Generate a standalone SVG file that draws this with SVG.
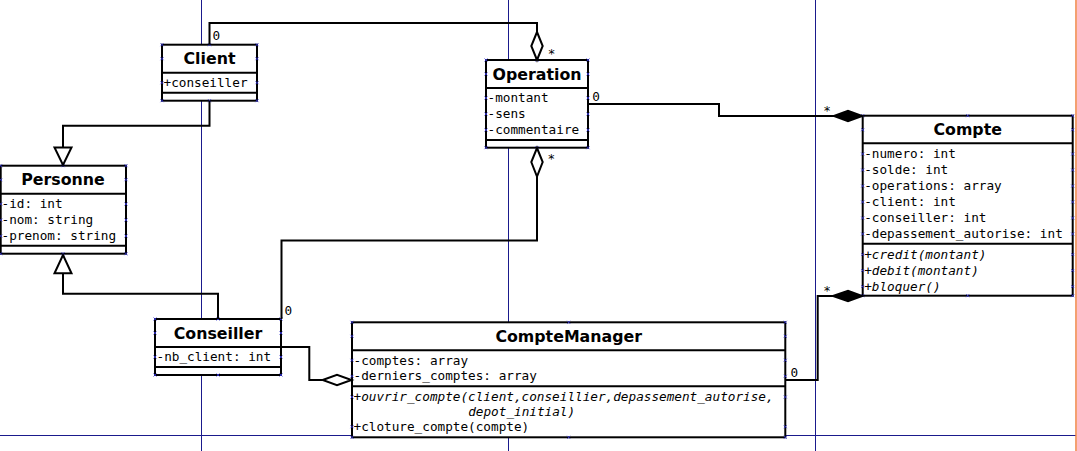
<svg xmlns="http://www.w3.org/2000/svg" xmlns:xlink="http://www.w3.org/1999/xlink" width="1077" height="451" viewBox="0 0 1077 451">
<style>
.bg{fill:#fff}
.guide{stroke:#1a1a8c;stroke-width:1;fill:none}
.guide2{stroke:#f08040;stroke-width:1.5;fill:none}
.box{fill:#fff;stroke:#000;stroke-width:2}
.div{stroke:#000;stroke-width:2}
.title{font-family:"DejaVu Sans",sans-serif;font-weight:bold;font-size:15.8px;text-anchor:middle;fill:#000}
.attr{font-family:"DejaVu Sans Mono",monospace;font-size:12.7px;fill:#000}
.it{font-style:italic}
.lbl{font-family:"DejaVu Sans Mono",monospace;font-size:12.7px;fill:#000}
.conn{fill:none;stroke:#000;stroke-width:2}
.hollow{fill:#fff;stroke:#000;stroke-width:2;stroke-linejoin:miter}
.solid{fill:#000;stroke:#000;stroke-width:2}
.cp{stroke:#3030d0;stroke-width:0.8;fill:none}
</style>
<defs>
<path id="cp" class="cp" d="M-1.5,-1.5L1.5,1.5M-1.5,1.5L1.5,-1.5"/>
</defs>
<rect class="bg" x="0" y="0" width="1077" height="451"/>
<g id="guides">
<line class="guide" x1="201.5" y1="0" x2="201.5" y2="451"/>
<line class="guide" x1="508.5" y1="0" x2="508.5" y2="451"/>
<line class="guide" x1="815.5" y1="0" x2="815.5" y2="451"/>
<line class="guide" x1="0" y1="435.5" x2="1076" y2="435.5"/>
<line class="guide2" x1="1076" y1="0" x2="1076" y2="451"/>
</g>

<g id="Client">
<rect class="box" x="162" y="44.7" width="95" height="56"/>
<line class="div" x1="162" y1="72.7" x2="257" y2="72.7"/>
<line class="div" x1="162" y1="92.7" x2="257" y2="92.7"/>
<text class="title" x="209.5" y="64.3">Client</text>
<text class="attr" x="163.5" y="86.7">+conseiller</text>
<use href="#cp" x="162" y="44.7"/><use href="#cp" x="257" y="44.7"/><use href="#cp" x="162" y="100.7"/><use href="#cp" x="257" y="100.7"/>
<use href="#cp" x="209.5" y="44.7"/><use href="#cp" x="209.5" y="100.7"/>
<use href="#cp" x="162" y="58.7"/><use href="#cp" x="257" y="58.7"/><use href="#cp" x="162" y="82.7"/><use href="#cp" x="257" y="82.7"/>
</g>

<g id="Personne">
<rect class="box" x="0.7" y="165.7" width="125.3" height="88"/>
<line class="div" x1="0.7" y1="193.7" x2="126" y2="193.7"/>
<line class="div" x1="0.7" y1="245.7" x2="126" y2="245.7"/>
<text class="title" x="63" y="185.3">Personne</text>
<text class="attr" x="1.5" y="208">-id: int</text>
<text class="attr" x="1.5" y="224">-nom: string</text>
<text class="attr" x="1.5" y="240">-prenom: string</text>
<use href="#cp" x="0.7" y="165.7"/><use href="#cp" x="126" y="165.7"/><use href="#cp" x="0.7" y="253.7"/><use href="#cp" x="126" y="253.7"/>
<use href="#cp" x="63" y="165.7"/><use href="#cp" x="63" y="253.7"/>
<use href="#cp" x="0.7" y="179.7"/><use href="#cp" x="126" y="179.7"/>
<use href="#cp" x="0.7" y="204"/><use href="#cp" x="126" y="204"/>
<use href="#cp" x="0.7" y="220"/><use href="#cp" x="126" y="220"/>
<use href="#cp" x="0.7" y="236"/><use href="#cp" x="126" y="236"/>
</g>

<g id="Operation">
<rect class="box" x="486" y="60" width="102" height="87.7"/>
<line class="div" x1="486" y1="88" x2="588" y2="88"/>
<line class="div" x1="486" y1="140" x2="588" y2="140"/>
<text class="title" x="537" y="79.6">Operation</text>
<text class="attr" x="487.5" y="102">-montant</text>
<text class="attr" x="487.5" y="118">-sens</text>
<text class="attr" x="487.5" y="134">-commentaire</text>
<use href="#cp" x="486" y="60"/><use href="#cp" x="588" y="60"/><use href="#cp" x="486" y="147.7"/><use href="#cp" x="588" y="147.7"/>
<use href="#cp" x="537" y="60"/><use href="#cp" x="537" y="147.7"/>
<use href="#cp" x="486" y="74"/><use href="#cp" x="588" y="74"/>
<use href="#cp" x="486" y="98"/><use href="#cp" x="588" y="98"/>
<use href="#cp" x="486" y="114"/><use href="#cp" x="588" y="114"/>
<use href="#cp" x="486" y="130"/><use href="#cp" x="588" y="130"/>
</g>

<g id="Compte">
<rect class="box" x="862.7" y="115.7" width="210" height="180"/>
<line class="div" x1="862.7" y1="143.3" x2="1072.7" y2="143.3"/>
<line class="div" x1="862.7" y1="243.7" x2="1072.7" y2="243.7"/>
<text class="title" x="967.7" y="135.3">Compte</text>
<text class="attr" x="864.2" y="158">-numero: int</text>
<text class="attr" x="864.2" y="174">-solde: int</text>
<text class="attr" x="864.2" y="190">-operations: array</text>
<text class="attr" x="864.2" y="206">-client: int</text>
<text class="attr" x="864.2" y="222">-conseiller: int</text>
<text class="attr" x="864.2" y="238">-depassement_autorise: int</text>
<text class="attr it" x="864.2" y="258.5">+credit(montant)</text>
<text class="attr it" x="864.2" y="274.5">+debit(montant)</text>
<text class="attr it" x="864.2" y="290.5">+bloquer()</text>
<use href="#cp" x="862.7" y="115.7"/><use href="#cp" x="1072.7" y="115.7"/><use href="#cp" x="862.7" y="295.7"/><use href="#cp" x="1072.7" y="295.7"/>
<use href="#cp" x="967.7" y="115.7"/><use href="#cp" x="967.7" y="295.7"/>
<use href="#cp" x="862.7" y="129.7"/><use href="#cp" x="1072.7" y="129.7"/>
<use href="#cp" x="862.7" y="154"/><use href="#cp" x="1072.7" y="154"/>
<use href="#cp" x="862.7" y="170"/><use href="#cp" x="1072.7" y="170"/>
<use href="#cp" x="862.7" y="186"/><use href="#cp" x="1072.7" y="186"/>
<use href="#cp" x="862.7" y="202"/><use href="#cp" x="1072.7" y="202"/>
<use href="#cp" x="862.7" y="218"/><use href="#cp" x="1072.7" y="218"/>
<use href="#cp" x="862.7" y="234"/><use href="#cp" x="1072.7" y="234"/>
<use href="#cp" x="862.7" y="254.5"/><use href="#cp" x="1072.7" y="254.5"/>
<use href="#cp" x="862.7" y="270.5"/><use href="#cp" x="1072.7" y="270.5"/>
<use href="#cp" x="862.7" y="286.5"/><use href="#cp" x="1072.7" y="286.5"/>
</g>

<g id="Conseiller">
<rect class="box" x="155" y="319" width="126" height="56"/>
<line class="div" x1="155" y1="347" x2="281" y2="347"/>
<line class="div" x1="155" y1="367" x2="281" y2="367"/>
<text class="title" x="218" y="338.6">Conseiller</text>
<text class="attr" x="156.5" y="361">-nb_client: int</text>
<use href="#cp" x="155" y="319"/><use href="#cp" x="281" y="319"/><use href="#cp" x="155" y="375"/><use href="#cp" x="281" y="375"/>
<use href="#cp" x="218" y="319"/><use href="#cp" x="218" y="375"/>
<use href="#cp" x="155" y="333"/><use href="#cp" x="281" y="333"/>
<use href="#cp" x="155" y="357"/><use href="#cp" x="281" y="357"/>
</g>

<g id="CompteManager">
<rect class="box" x="352" y="322.3" width="433.3" height="115"/>
<line class="div" x1="352" y1="350.3" x2="785.3" y2="350.3"/>
<line class="div" x1="352" y1="386.3" x2="785.3" y2="386.3"/>
<text class="title" x="568.7" y="342">CompteManager</text>
<text class="attr" x="353.5" y="364.5">-comptes: array</text>
<text class="attr" x="353.5" y="380.3">-derniers_comptes: array</text>
<text class="attr it" x="353.5" y="401">+ouvrir_compte(client,conseillier,depassement_autorise,</text>
<text class="attr it" x="468.2" y="415.5">depot_initial)</text>
<text class="attr" x="353.5" y="431.3">+cloture_compte(compte)</text>
<use href="#cp" x="352" y="322.3"/><use href="#cp" x="785.3" y="322.3"/><use href="#cp" x="352" y="437.3"/><use href="#cp" x="785.3" y="437.3"/>
<use href="#cp" x="568.7" y="322.3"/><use href="#cp" x="568.7" y="437.3"/>
<use href="#cp" x="352" y="336.3"/><use href="#cp" x="785.3" y="336.3"/>
<use href="#cp" x="352" y="360.3"/><use href="#cp" x="785.3" y="360.3"/>
<use href="#cp" x="352" y="376.3"/><use href="#cp" x="785.3" y="376.3"/>
<use href="#cp" x="352" y="397"/><use href="#cp" x="785.3" y="397"/>
<use href="#cp" x="352" y="426.7"/><use href="#cp" x="785.3" y="426.7"/>
</g>

<g id="connectors">
<polyline class="conn" points="209.5,100.7 209.5,125.7 63,125.7 63,147.5"/>
<polygon class="hollow" points="54.5,147.5 71.5,147.5 63,165"/>
<polyline class="conn" points="218,319 218,293.7 63,293.7 63,273.3"/>
<polygon class="hollow" points="54.5,273.3 71.5,273.3 63,255"/>
<polyline class="conn" points="209.5,44.7 209.5,23 537,23 537,32"/>
<polygon class="hollow" points="537,32 542.7,46 537,60 531.3,46"/>
<polygon class="hollow" points="537,148 542.7,162 537,176.5 531.3,162"/>
<polyline class="conn" points="537,176.5 537,240.5 281.5,240.5 281.5,319"/>
<polyline class="conn" points="588,104 719,104 719,116 834,116"/>
<polygon class="solid" points="834,116 848,110.8 862.2,116 848,121.2"/>
<polyline class="conn" points="281,347 309.3,347 309.3,380 322.7,380"/>
<polygon class="hollow" points="322.7,380 337,374.8 351.5,380 337,385.2"/>
<polyline class="conn" points="785.3,380 817.7,380 817.7,296 833,296"/>
<polygon class="solid" points="833,296 848,290.8 862.2,296 848,301.2"/>
<text class="lbl" x="212.5" y="39.5">0</text>
<text class="lbl" x="547.8" y="57.5">*</text>
<text class="lbl" x="547.5" y="162.6">*</text>
<text class="lbl" x="592.2" y="101">0</text>
<text class="lbl" x="823.3" y="114.5">*</text>
<text class="lbl" x="823.3" y="294.5">*</text>
<text class="lbl" x="284.5" y="315">0</text>
<text class="lbl" x="790.5" y="377.3">0</text>
</g>
</svg>
